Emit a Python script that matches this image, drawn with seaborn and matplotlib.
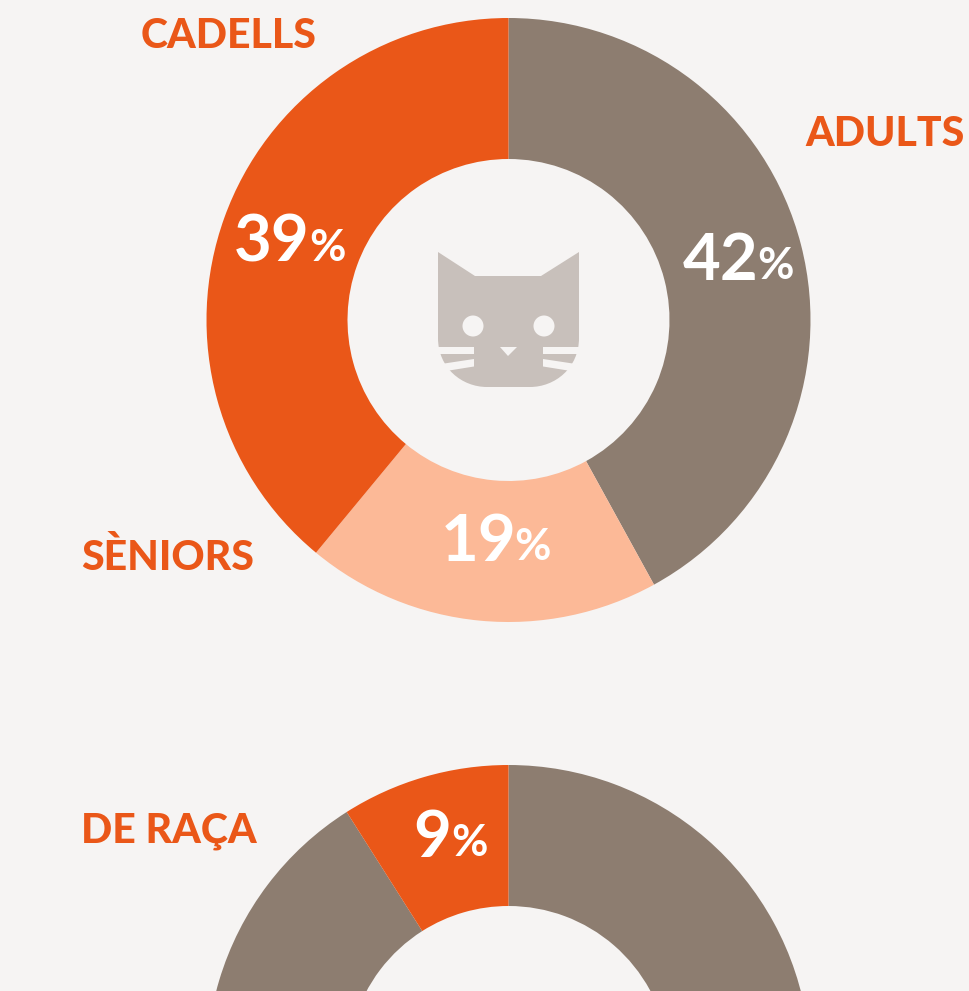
import matplotlib
matplotlib.use("Agg")
import matplotlib.pyplot as plt
from matplotlib.patches import Circle, PathPatch, Polygon
from matplotlib.path import Path
import seaborn as sns

BG = "#F6F4F3"
ORANGE = "#EA5718"
TAUPE = "#8D7D70"
PEACH = "#FCB997"
CAT = "#C8C0BB"
FONT = ["Lato", "DejaVu Sans"]

age_groups = ["ADULTS", "SÈNIORS", "CADELLS"]
age_values = [42, 19, 39]
breed_groups = ["MESTISSOS", "DE RAÇA"]
breed_values = [91, 9]

sns.set_theme(style="white", rc={"figure.facecolor": BG, "axes.facecolor": BG})
age_colors = sns.color_palette([TAUPE, PEACH, ORANGE])
breed_colors = sns.color_palette([TAUPE, ORANGE])

fig = plt.figure(figsize=(9.70, 9.91), dpi=100)
ax = fig.add_axes([0, 0, 1, 1])


def donut(values, colors, cx, cy):
    ax.pie(values, colors=colors, startangle=-90, counterclock=True,
           center=(cx, cy), radius=302,
           wedgeprops={"width": 141, "linewidth": 0})


donut(age_values, age_colors, 508.5, 320)
donut(breed_values, breed_colors, 508.5, 1067)
ax.set_xlim(0, 970)
ax.set_ylim(991, 0)
ax.set_aspect("equal")
ax.axis("off")


def name(text, x, y):
    ax.text(x, y, text, color=ORANGE, family=FONT, weight="black", fontsize=29.5,
            ha="left", va="baseline")


def pct(value, x_num, x_sign, y):
    ax.text(x_num, y, str(value), color="white", family=FONT, weight="bold",
            fontsize=47, ha="left", va="baseline")
    ax.text(x_sign, y - 1, "%", color="white", family=FONT, weight="bold",
            fontsize=32, ha="left", va="baseline")


name(age_groups[2], 141, 48)
name(age_groups[0], 805, 146)
name(age_groups[1], 81, 570)
name(breed_groups[1], 81, 843)

pct(age_values[2], 234, 309, 262)
pct(age_values[0], 683, 757, 280)
pct(age_values[1], 441, 514, 561)
pct(breed_values[1], 413, 451, 857)

# cat icon
cat_verts = [(438, 252), (475, 276), (541, 276), (579, 252), (579, 338),
             (579, 368), (555, 387), (530, 387), (487, 387),
             (462, 387), (438, 368), (438, 338), (438, 252)]
cat_codes = [Path.MOVETO, Path.LINETO, Path.LINETO, Path.LINETO, Path.LINETO,
             Path.CURVE4, Path.CURVE4, Path.CURVE4, Path.LINETO,
             Path.CURVE4, Path.CURVE4, Path.CURVE4, Path.CLOSEPOLY]
ax.add_patch(PathPatch(Path(cat_verts, cat_codes), fc=CAT, ec="none"))
for ex in (473, 544):
    ax.add_patch(Circle((ex, 326), 10.5, fc=BG, ec="none"))
ax.add_patch(Polygon([(500, 347), (517, 347), (508, 356)], fc=BG, ec="none"))
for whisker in (
    [(436, 347), (474, 347), (474, 354), (436, 354)],
    [(441, 364), (474, 359), (474, 366.5), (446, 371)],
    [(581, 347), (543, 347), (543, 354), (581, 354)],
    [(576, 364), (543, 359), (543, 366.5), (571, 371)],
):
    ax.add_patch(Polygon(whisker, fc=BG, ec="none"))

fig.savefig("out.png", dpi=100, facecolor=BG)
